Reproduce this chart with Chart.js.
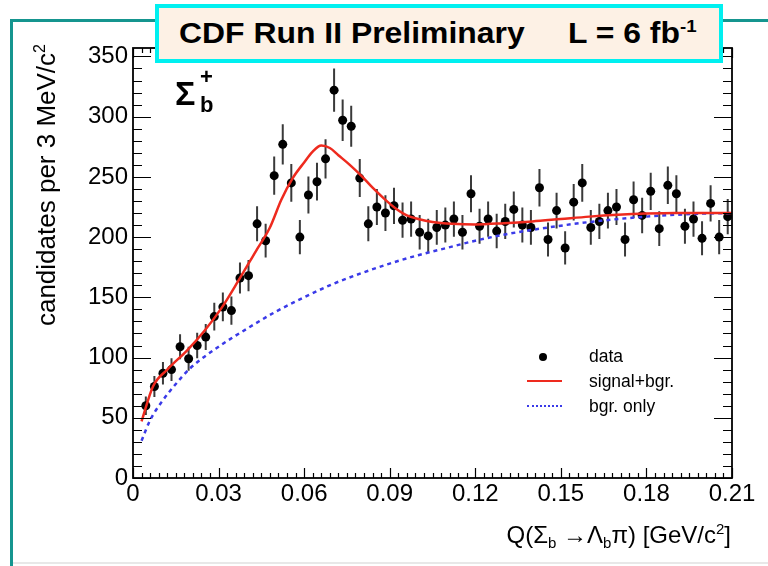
<!DOCTYPE html>
<html>
<head>
<meta charset="utf-8">
<script src="https://cdn.jsdelivr.net/npm/chart.js@4.4.0/dist/chart.umd.min.js"></script>
<style>
  html, body { margin: 0; padding: 0; width: 768px; height: 566px; overflow: hidden; background: #fff; }
  body { position: relative; font-family: "Liberation Sans", Arial, Helvetica, sans-serif; color: #000; }
  #frame { position: absolute; left: 10px; top: 19px; width: 800px; height: 600px;
           border-top: 3px solid #15958f; border-left: 3px solid #15958f; }
  #bottomline { position: absolute; left: 13px; top: 562px; width: 760px; height: 2px; background: #e8e8e8; }
  #plot { position: absolute; left: 0; top: 0; }
  #banner { position: absolute; left: 155px; top: 4px; width: 568px; height: 59px; box-sizing: border-box;
            border: 4px solid #00f0f0; background: #fdf1e5; font-weight: bold; font-size: 29px; z-index: 2; }
  #banner span { position: absolute; top: 0; line-height: 51px; white-space: nowrap;
                 transform: scaleX(1.1); transform-origin: left center; }
  #banner sup { font-size: 17px; vertical-align: 11px; line-height: 0; }
  #particle { position: absolute; left: 175px; top: 76px; font-weight: bold; z-index: 2; }
  #particle .sym { font-size: 34px; line-height: 34px; }
  #particle .sub, #particle .sup { position: absolute; left: 25px; font-size: 22px; line-height: 22px; }
  #particle .sup { top: -10px; }
  #particle .sub { top: 18px; }
  #ytitle { position: absolute; left: -104px; top: 179px; width: 300px; height: 30px; line-height: 30px;
            font-size: 26px; text-align: right; white-space: nowrap; transform: rotate(-90deg); }
  #ytitle sup { font-size: 16px; vertical-align: 10px; line-height: 0; }
  #xtitle { position: absolute; right: 37px; top: 521px; font-size: 24px; line-height: 28px; white-space: nowrap; }
  #xtitle sup { font-size: 15px; vertical-align: 9px; line-height: 0; }
  #xtitle sub { font-size: 15px; vertical-align: -5px; line-height: 0; }
  #legend { position: absolute; left: 522px; top: 344px; font-size: 17.5px; line-height: 25px; }
  #legend .row { position: relative; height: 25px; padding-left: 67px; white-space: nowrap; }
  #legend .dot { position: absolute; left: 17px; top: 9px; width: 8px; height: 8px; border-radius: 50%; background: #000; }
  #legend .solid { position: absolute; left: 5px; top: 11px; width: 35px; border-top: 2.5px solid #ee2a1e; }
  #legend .dash { position: absolute; left: 5px; top: 11px; width: 35px; border-top: 2.5px dotted #3a3ae8; }
</style>
</head>
<body>
<div id="frame"></div>
<div id="bottomline"></div>
<canvas id="plot" width="768" height="566"></canvas>
<div id="banner"><span style="left:20px">CDF Run II Preliminary</span><span style="left:409px">L = 6 fb<sup>-1</sup></span></div>
<div id="particle"><span class="sym">Σ</span><span class="sup">+</span><span class="sub">b</span></div>
<div id="ytitle">candidates per 3 MeV/c<sup>2</sup></div>
<div id="xtitle">Q(Σ<sub>b</sub> →Λ<sub>b</sub>π) [GeV/c<sup>2</sup>]</div>
<div id="legend">
  <div class="row"><i class="dot"></i>data</div>
  <div class="row"><i class="solid"></i>signal+bgr.</div>
  <div class="row"><i class="dash"></i>bgr. only</div>
</div>
<script>
// histogram: 3 MeV bins, centres in GeV/c^2
var binCenters = [
  0.0045, 0.0075, 0.0105, 0.0135, 0.0165, 0.0195, 0.0225, 0.0255, 0.0285, 0.0315,
  0.0345, 0.0375, 0.0405, 0.0435, 0.0465, 0.0495, 0.0525, 0.0555, 0.0585, 0.0615,
  0.0645, 0.0675, 0.0705, 0.0735, 0.0765, 0.0795, 0.0825, 0.0855, 0.0885, 0.0915,
  0.0945, 0.0975, 0.1005, 0.1035, 0.1065, 0.1095, 0.1125, 0.1155, 0.1185, 0.1215,
  0.1245, 0.1275, 0.1305, 0.1335, 0.1365, 0.1395, 0.1425, 0.1455, 0.1485, 0.1515,
  0.1545, 0.1575, 0.1605, 0.1635, 0.1665, 0.1695, 0.1725, 0.1755, 0.1785, 0.1815,
  0.1845, 0.1875, 0.1905, 0.1935, 0.1965, 0.1995, 0.2025, 0.2055, 0.2085
];
var counts = [
  60, 76, 87, 90, 109, 99, 110, 117, 134, 142,
  139, 166, 168, 211, 197, 251, 277, 245, 200, 235,
  246, 265, 322, 297, 292, 249, 211, 225, 220, 226,
  214, 215, 204, 201, 208, 210, 215, 204, 236, 209,
  215, 205, 213, 223, 210, 208, 241, 198, 222, 191,
  229, 245, 208, 213, 222, 225, 198, 231, 218, 238,
  207, 243, 236, 209, 215, 199, 228, 200, 217
];

// fit curves
var fitQ = [0.003, 0.007, 0.012, 0.019, 0.025, 0.031, 0.037, 0.043, 0.048, 0.052, 0.056, 0.060,
            0.063, 0.066, 0.069, 0.072, 0.076, 0.080, 0.084, 0.088, 0.092, 0.096, 0.100, 0.105,
            0.112, 0.120, 0.130, 0.140, 0.150, 0.160, 0.170, 0.180, 0.190, 0.200, 0.210];
var fitTotal = [47, 76, 90, 106, 122, 141, 164, 188, 208, 231, 249, 262,
                271, 276, 274, 268, 260, 251, 241, 232, 224, 218, 215, 212.5,
                211, 210.5, 211.5, 213, 215, 217, 218.5, 219.5, 220, 220, 220];
var bgQ = [0.003, 0.006, 0.010, 0.015, 0.020, 0.030, 0.040, 0.050, 0.060, 0.070, 0.080, 0.090,
           0.100, 0.110, 0.120, 0.130, 0.140, 0.150, 0.160, 0.170, 0.180, 0.190, 0.200, 0.210];
var bgOnly = [31, 48, 63, 78, 91, 109, 124, 138, 150, 161, 170, 178,
              185, 191, 197, 202, 206, 209.5, 212.5, 215, 217, 218.5, 219.5, 220];

var xTicks = [0, 0.03, 0.06, 0.09, 0.12, 0.15, 0.18, 0.21];
var yTicks = [0, 50, 100, 150, 200, 250, 300, 350];

function pairs(xs, ys) {
  return xs.map(function (x, i) { return { x: x, y: ys[i] }; });
}

// poisson error bars under the markers
var errorBars = {
  id: 'errorBars',
  beforeDatasetsDraw: function (chart) {
    var ctx = chart.ctx, x = chart.scales.x, y = chart.scales.y;
    ctx.save();
    ctx.strokeStyle = '#3a3a3a';
    ctx.lineWidth = 2;
    ctx.beginPath();
    counts.forEach(function (n, i) {
      var px = x.getPixelForValue(binCenters[i]);
      var err = Math.sqrt(n);
      ctx.moveTo(px, y.getPixelForValue(n - err));
      ctx.lineTo(px, y.getPixelForValue(n + err));
    });
    ctx.stroke();
    ctx.restore();
  }
};

// closed frame with inward ticks on all four sides
var frameTicks = {
  id: 'frameTicks',
  afterDatasetsDraw: function (chart) {
    var ctx = chart.ctx, a = chart.chartArea, x = chart.scales.x, y = chart.scales.y;
    ctx.save();
    ctx.strokeStyle = '#000';
    ctx.lineWidth = 1.2;
    ctx.beginPath();
    for (var v = 0; v <= 350; v += 10) {
      var py = Math.round(y.getPixelForValue(v)) + 0.5;
      var len = v % 50 === 0 ? 18 : 9;
      ctx.moveTo(a.left, py); ctx.lineTo(a.left + len, py);
      ctx.moveTo(a.right, py); ctx.lineTo(a.right - len, py);
    }
    for (var i = 0; i <= 70; i++) {
      var px = Math.round(x.getPixelForValue(i * 0.003)) + 0.5;
      var l = i % 10 === 0 ? 10 : 5;
      ctx.moveTo(px, a.bottom); ctx.lineTo(px, a.bottom - l);
      ctx.moveTo(px, a.top); ctx.lineTo(px, a.top + l);
    }
    ctx.stroke();
    ctx.lineWidth = 1.8;
    ctx.strokeRect(a.left, a.top, a.right - a.left, a.bottom - a.top);
    ctx.restore();
  }
};

var tickFont = { family: '"Liberation Sans", Arial, sans-serif', size: 24 };

new Chart(document.getElementById('plot').getContext('2d'), {
  type: 'scatter',
  data: {
    datasets: [
      {
        label: 'signal+bgr.',
        type: 'line',
        data: pairs(fitQ, fitTotal),
        borderColor: '#ee2a1e',
        borderWidth: 2.5,
        pointRadius: 0,
        fill: false,
        cubicInterpolationMode: 'monotone',
        order: 0
      },
      {
        label: 'bgr. only',
        type: 'line',
        data: pairs(bgQ, bgOnly),
        borderColor: '#3a3ae8',
        borderWidth: 2.5,
        borderDash: [4, 4],
        pointRadius: 0,
        fill: false,
        cubicInterpolationMode: 'monotone',
        order: 1
      },
      {
        label: 'data',
        data: pairs(binCenters, counts),
        backgroundColor: '#000',
        borderWidth: 0,
        pointRadius: 4.5,
        order: 2
      }
    ]
  },
  options: {
    responsive: false,
    animation: false,
    layout: { padding: { left: 0, right: 36, top: 48, bottom: 0 } },
    plugins: { legend: { display: false }, tooltip: { enabled: false } },
    scales: {
      x: {
        type: 'linear',
        min: 0,
        max: 0.21,
        grid: { display: false, drawTicks: false },
        border: { display: false },
        afterBuildTicks: function (s) { s.ticks = xTicks.map(function (v) { return { value: v }; }); },
        afterFit: function (s) { s.height = 88; },
        ticks: {
          color: '#000',
          font: tickFont,
          padding: 2,
          maxRotation: 0,
          autoSkip: false,
          callback: function (v) { return v === 0 ? '0' : v.toFixed(2); }
        }
      },
      y: {
        min: 0,
        max: 357,
        grid: { display: false, drawTicks: false },
        border: { display: false },
        afterBuildTicks: function (s) { s.ticks = yTicks.map(function (v) { return { value: v }; }); },
        afterFit: function (s) { s.width = 133; },
        ticks: { color: '#000', font: tickFont, padding: 5 }
      }
    }
  },
  plugins: [errorBars, frameTicks]
});
</script>
</body>
</html>
